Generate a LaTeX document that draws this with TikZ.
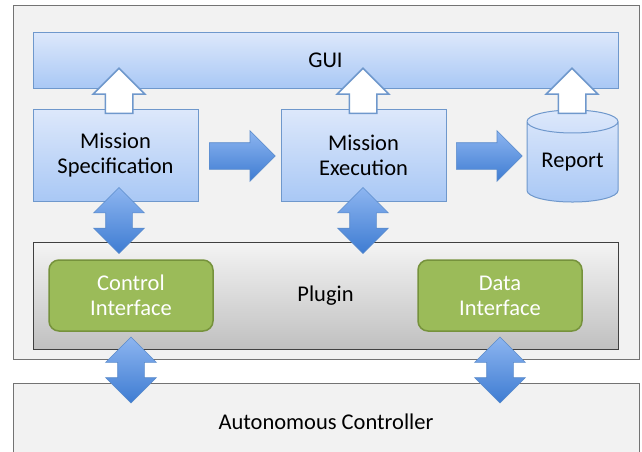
\documentclass[tikz,border=0pt]{standalone}
\usepackage{fontspec}
\setmainfont{Carlito}
\usetikzlibrary{shapes.geometric,shapes.arrows}

\definecolor{boxtop}{HTML}{DDE8FB}
\definecolor{boxbot}{HTML}{A9C8F5}
\definecolor{boxline}{HTML}{6F98CC}
\definecolor{arrtop}{HTML}{8DB5F0}
\definecolor{arrbot}{HTML}{3E7CD2}
\definecolor{arrline}{HTML}{5A8BCB}
\definecolor{plugtop}{HTML}{F4F4F4}
\definecolor{plugbot}{HTML}{C0C0C0}
\definecolor{ifgreen}{HTML}{9BBB59}
\definecolor{ifline}{HTML}{76923C}
\definecolor{panel}{HTML}{F2F2F2}

\tikzset{
  panelbox/.style={draw=gray!90!black, fill=panel, line width=1pt, inner sep=0pt},
  bluebox/.style={draw=boxline, top color=boxtop, bottom color=boxbot, line width=1pt,
                  align=center, inner sep=0pt},
  plugbox/.style={draw=black!75, top color=plugtop, bottom color=plugbot, line width=1pt, inner sep=0pt},
  ifbox/.style={draw=ifline, fill=ifgreen, rounded corners=10pt, line width=1.5pt, text=white,
                align=center, minimum width=164pt, minimum height=71pt},
  outarrow/.style={single arrow, shape border rotate=90, anchor=tail, draw=boxline, fill=white,
                   line width=1.5pt, inner sep=13pt, single arrow head extend=12pt, minimum height=45pt},
  flowarrow/.style={single arrow, anchor=tail, draw=arrline, line width=0.6pt,
                    top color=arrtop, bottom color=arrbot,
                    inner sep=13pt, single arrow head extend=12pt, minimum height=66pt},
  linkarrow/.style={double arrow, shape border rotate=90, draw=arrline, line width=0.6pt,
                    top color=arrtop, bottom color=arrbot,
                    inner sep=13pt, double arrow head extend=12pt, minimum height=66pt},
}

\begin{document}
\begin{tikzpicture}[x=1pt, y=-1pt, font=\fontsize{22.5}{25}\selectfont]
  \useasboundingbox (0,0) rectangle (642,451);

  % frame of the tool and the controller below it
  \node[panelbox, minimum width=626pt, minimum height=354pt] (tool) at (326,182) {};
  \node[panelbox, minimum width=626pt, minimum height=77pt] (ctrl) at (326,421.5) {Autonomous Controller};

  % upper layer
  \node[bluebox, minimum width=585pt, minimum height=56pt] (gui) at (325.5,60) {GUI};
  \node[bluebox, minimum width=165pt, minimum height=92pt] (spec) at (115.5,155) {Mission\\Specification};
  \node[bluebox, minimum width=165pt, minimum height=92pt] (exec) at (363.5,155) {Mission\\Execution};
  \node[cylinder, shape border rotate=90, aspect=0.37, draw=boxline, line width=1pt,
        top color=boxtop, bottom color=boxbot, minimum width=91pt, minimum height=92pt,
        inner sep=0pt] (report) at (572.5,162) {Report};

  % plugin with its two interfaces
  \node[plugbox, minimum width=585pt, minimum height=107pt] (plugin) at (325.5,295.5) {Plugin};
  \node[ifbox] (ctrlif) at (131,295.5) {Control\\Interface};
  \node[ifbox] (dataif) at (500,295.5) {Data\\Interface};

  % block arrows
  \node[outarrow] (specgui) at (119,114) {};
  \node[outarrow] (execgui) at (363,114) {};
  \node[outarrow] (repgui) at (572,114) {};
  \node[flowarrow] (specexec) at (209,156) {};
  \node[flowarrow] (execrep) at (456,156) {};
  \node[linkarrow] (specplug) at (119,220.5) {};
  \node[linkarrow] (execplug) at (363,220.5) {};
  \node[linkarrow] (ctrlifac) at (131,370) {};
  \node[linkarrow] (dataifac) at (500,370) {};
\end{tikzpicture}
\end{document}
